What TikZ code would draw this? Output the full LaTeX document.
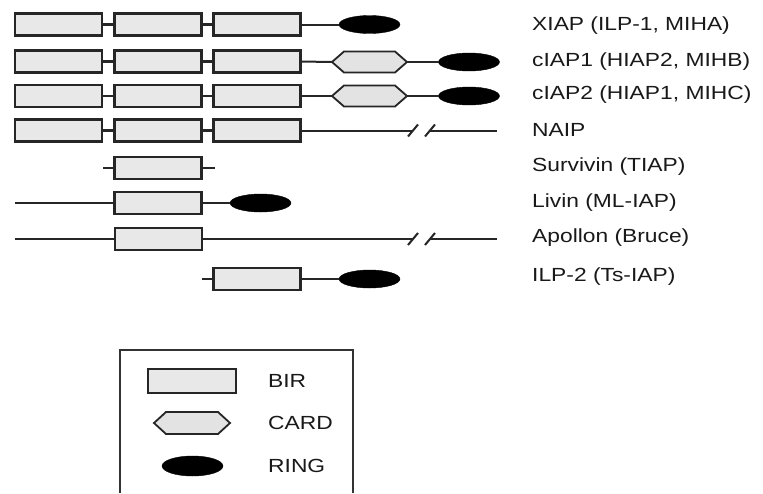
\documentclass[tikz,border=0pt]{standalone}
\usepackage{fontspec}
\setmainfont[FakeStretch=1.2]{Liberation Sans}
\usetikzlibrary{shapes.geometric,calc}
\begin{document}
\begin{tikzpicture}[x=1pt,y=-1pt,
  bir/.style={draw=black!85, line width=2.6pt, fill=black!9, minimum width=87pt, minimum height=22pt, inner sep=0pt, outer sep=0pt},
  cardbox/.style={inner sep=0pt, outer sep=0pt, minimum width=75pt, minimum height=21pt},
  cardline/.style={draw=black!85, line width=1.8pt, fill=black!11, line join=miter},
  ring/.style={ellipse, fill=black, draw=black, minimum width=61pt, minimum height=18pt, inner sep=0pt, outer sep=0pt},
  thick link/.style={draw=black!85, line width=2.8pt},
  thin link/.style={draw=black!85, line width=2pt},
  lab/.style={anchor=west, font=\fontsize{19}{22}\selectfont, text=black!90, inner sep=0pt},
  ]
\useasboundingbox (0,0) rectangle (763,493);
\newcommand{\cardshape}[1]{%
  \draw[cardline] (#1.west) -- ($(#1.north west)+(12,0)$) -- ($(#1.north east)+(-12,0)$) -- (#1.east)
    -- ($(#1.south east)+(-12,0)$) -- ($(#1.south west)+(12,0)$) -- cycle;}

% Row 1 XIAP
\node[bir] (a1) at (58.5,24.5) {};
\node[bir] (a2) at (158,24.5) {};
\node[bir] (a3) at (257,24.5) {};
\node[ring] (ar) at (369.5,24.5) {};
\draw[thick link] (a1.east) -- (a2.west);
\draw[thick link] (a2.east) -- (a3.west);
\draw[thin link] (a3.east) -- (ar.west);
\node[lab] (la) at (532,26) {XIAP (ILP-1, MIHA)};

% Row 2 cIAP1
\node[bir] (b1) at (58.5,61.5) {};
\node[bir] (b2) at (158,61.5) {};
\node[bir] (b3) at (257,61.5) {};
\node[cardbox] (bc) at (369.5,62) {};
\node[ring] (br) at (469,62) {};
\draw[thick link] (b1.east) -- (b2.west);
\draw[thick link] (b2.east) -- (b3.west);
\draw[thin link] (b3.east) -- (bc.west);
\draw[thin link] (bc.east) -- (br.west);
\cardshape{bc}
\node[lab] (lb) at (532,62) {cIAP1 (HIAP2, MIHB)};

% Row 3 cIAP2
\node[bir] (c1) at (58.5,96) {};
\node[bir] (c2) at (158,96) {};
\node[bir] (c3) at (257,96) {};
\node[cardbox] (cc) at (369.5,96) {};
\node[ring] (cr) at (469,96) {};
\draw[thin link] (c1.east) -- (c2.west);
\draw[thin link] (c2.east) -- (c3.west);
\draw[thin link] (c3.east) -- (cc.west);
\draw[thin link] (cc.east) -- (cr.west);
\cardshape{cc}
\node[lab] (lc) at (532,95) {cIAP2 (HIAP1, MIHC)};

% Row 4 NAIP
\node[bir] (d1) at (58.5,130.5) {};
\node[bir] (d2) at (158,130.5) {};
\node[bir] (d3) at (257,130.5) {};
\coordinate (dbl) at (413,130.5);
\coordinate (dbr) at (430,130.5);
\coordinate (dend) at (497,130.5);
\draw[thick link] (d1.east) -- (d2.west);
\draw[thick link] (d2.east) -- (d3.west);
\draw[thin link] (d3.east) -- (dbl);
\draw[thin link] (dbr) -- (dend);
\draw[thin link] ($(dbl)+(-5,6)$) -- ($(dbl)+(5,-6)$);
\draw[thin link] ($(dbr)+(-5,6)$) -- ($(dbr)+(5,-6)$);
\node[lab] (ld) at (532,130) {NAIP};

% Row 5 Survivin
\node[bir] (e1) at (158,168) {};
\coordinate (el) at (103,168);
\coordinate (er) at (215,168);
\draw[thin link] (el) -- (e1.west);
\draw[thin link] (e1.east) -- (er);
\node[lab] (le) at (532,167) {Survivin (TIAP)};

% Row 6 Livin
\node[bir] (f1) at (158,203) {};
\coordinate (fl) at (15,203);
\node[ring] (fr) at (260.5,203) {};
\draw[thin link] (fl) -- (f1.west);
\draw[thin link] (f1.east) -- (fr.west);
\node[lab] (lf) at (532,203) {Livin (ML-IAP)};

% Row 7 Apollon
\node[bir] (g1) at (158.5,239) {};
\coordinate (gl) at (15,239);
\coordinate (gbl) at (413,239);
\coordinate (gbr) at (430,239);
\coordinate (gend) at (497,239);
\draw[thin link] (gl) -- (g1.west);
\draw[thin link] (g1.east) -- (gbl);
\draw[thin link] (gbr) -- (gend);
\draw[thin link] ($(gbl)+(-5,6)$) -- ($(gbl)+(5,-6)$);
\draw[thin link] ($(gbr)+(-5,6)$) -- ($(gbr)+(5,-6)$);
\node[lab] (lg) at (532,238) {Apollon (Bruce)};

% Row 8 ILP-2
\node[bir] (h1) at (257,279) {};
\coordinate (hl) at (202,279);
\node[ring] (hr) at (369.5,279) {};
\draw[thin link] (hl) -- (h1.west);
\draw[thick link] (h1.east) -- (hr.west);
\node[lab] (lh) at (532,277) {ILP-2 (Ts-IAP)};

% Legend
\coordinate (kbl) at (120,493);
\coordinate (ktl) at (120,350);
\coordinate (ktr) at (353,350);
\coordinate (kbr) at (353,493);
\draw[draw=black!80, line width=1.6pt] (kbl) -- (ktl) -- (ktr) -- (kbr);
\node[bir, minimum width=88pt, minimum height=24pt] (kb) at (192,381) {};
\node[cardbox, minimum width=76pt, minimum height=22pt] (kc) at (192,423) {};
\cardshape{kc}
\node[ring, minimum height=20pt] (kr) at (192.5,466) {};
\node[lab] (lkb) at (268,381) {BIR};
\node[lab] (lkc) at (268,423) {CARD};
\node[lab] (lkr) at (268,466) {RING};
\end{tikzpicture}
\end{document}
